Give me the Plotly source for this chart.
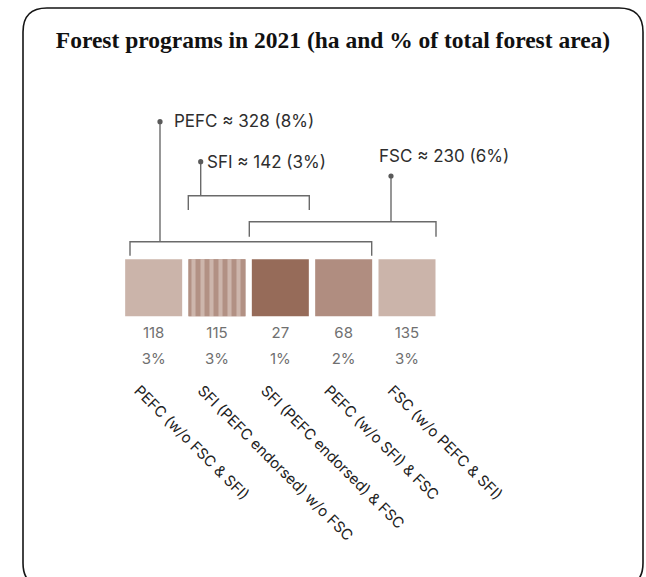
import plotly.graph_objects as go

# ---------------- data ----------------
categories = [
    "PEFC (w/o FSC & SFI)",
    "SFI (PEFC endorsed) w/o FSC",
    "SFI (PEFC endorsed) & FSC",
    "PEFC (w/o SFI) & FSC",
    "FSC (w/o PEFC & SFI)",
]
area_ha = [118, 115, 27, 68, 135]
share_pct = [3, 3, 1, 2, 3]
striped = [False, True, False, False, False]

group_names = ["PEFC", "SFI", "FSC"]
group_members = [[0, 1, 2, 3], [1, 2], [2, 3, 4]]
group_pct = [8, 3, 6]

# ---------------- styles ----------------
tile_colors = ["#cbb4aa", "#b29184", "#966b59", "#b08d80", "#cbb4aa"]
stripe_color = "#cdb6ac"
stripe_bg = "#b29184"

W, H = 646, 577
ML, MR, MT, MB = 27, 49, 60, 205
XR = (-2, 7)
PW = W - ML - MR
PH = H - MT - MB
PX_PER_X = PW / (XR[1] - XR[0])
TILE_PX = 57
TILE_BOTTOM = 316.3


def xd(px):
    return (px - ML) / PX_PER_X + XR[0]


def yd(py):
    return (H - MB) - py


def xp(px):
    return (px - ML) / PW


def yp(py):
    return ((H - MB) - py) / PH


# bracket geometry in pixels: bar y, tick bottom y, x0, x1, stem x, dot y, label x, label y
bracket_px = [
    (241.7, 255.7, 130.0, 371.7, 160.0, 121.7, 171.5, 121.0),
    (195.7, 210.0, 188.3, 309.3, 200.7, 161.7, 205.0, 162.0),
    (221.7, 236.7, 249.3, 436.0, 391.0, 176.0, 376.5, 155.5),
]

fig = go.Figure()

# plain tiles
fig.add_trace(go.Bar(
    x=categories,
    y=[TILE_PX] * len(categories),
    base=[yd(TILE_BOTTOM)] * len(categories),
    width=0.9,
    marker=dict(color=tile_colors, line=dict(width=0)),
    hoverinfo="skip",
    showlegend=False,
))

# striped tile(s)
s_cats = [c for c, s in zip(categories, striped) if s]
fig.add_trace(go.Bar(
    x=s_cats,
    y=[TILE_PX] * len(s_cats),
    base=[yd(TILE_BOTTOM)] * len(s_cats),
    width=0.9,
    marker=dict(
        color=stripe_bg,
        line=dict(width=0),
        pattern=dict(shape="|", fgcolor=stripe_color, bgcolor=stripe_bg,
                     fgopacity=1, size=9, solidity=0.45, fillmode="replace"),
    ),
    hoverinfo="skip",
    showlegend=False,
))

# values and percentages
fig.add_trace(go.Scatter(
    x=categories, y=[yd(334)] * len(categories), mode="text",
    text=[str(v) for v in area_ha],
    textfont=dict(family="Inter", size=15, color="#707070"),
    showlegend=False, hoverinfo="skip",
))
fig.add_trace(go.Scatter(
    x=categories, y=[yd(360)] * len(categories), mode="text",
    text=[f"{p}%" for p in share_pct],
    textfont=dict(family="Inter", size=15, color="#707070"),
    showlegend=False, hoverinfo="skip",
))

line_style = dict(color="#6a6a6a", width=1.4)
for name, members, pct, geo in zip(group_names, group_members, group_pct, bracket_px):
    by, tb, x0, x1, sx, dy, lx, ly = geo
    total = sum(area_ha[i] for i in members)
    fig.add_shape(type="path",
                  path=f"M {xd(x0)},{yd(tb)} L {xd(x0)},{yd(by)} L {xd(x1)},{yd(by)} L {xd(x1)},{yd(tb)}",
                  xref="x", yref="y", line=line_style)
    fig.add_shape(type="line", x0=xd(sx), x1=xd(sx), y0=yd(by), y1=yd(dy),
                  xref="x", yref="y", line=line_style)
    fig.add_shape(type="circle", xref="x", yref="y",
                  xsizemode="pixel", ysizemode="pixel",
                  xanchor=xd(sx), yanchor=yd(dy),
                  x0=-2.6, x1=2.6, y0=-2.6, y1=2.6,
                  fillcolor="#5a5a5a", line=dict(width=0))
    fig.add_annotation(x=xd(lx), y=yd(ly), xref="x", yref="y",
                       text=f"{name} ≈ {total} ({pct}%)", showarrow=False,
                       xanchor="left", yanchor="middle",
                       font=dict(family="Inter", size=17, color="#2e2e2e"))

# rounded frame
fl, fr, ft, fb, r = 23, 643, 8, 587, 24
frame = (
    f"M {xp(fl)},{yp(ft + r)} Q {xp(fl)},{yp(ft)} {xp(fl + r)},{yp(ft)} "
    f"L {xp(fr - r)},{yp(ft)} Q {xp(fr)},{yp(ft)} {xp(fr)},{yp(ft + r)} "
    f"L {xp(fr)},{yp(fb - r)} Q {xp(fr)},{yp(fb)} {xp(fr - r)},{yp(fb)} "
    f"L {xp(fl + r)},{yp(fb)} Q {xp(fl)},{yp(fb)} {xp(fl)},{yp(fb - r)} Z"
)
fig.add_shape(type="path", path=frame, xref="paper", yref="paper",
              line=dict(color="#151515", width=1.6), layer="below")

fig.update_layout(
    width=W, height=H,
    barmode="overlay",
    margin=dict(l=ML, r=MR, t=MT, b=MB, autoexpand=False),
    paper_bgcolor="white", plot_bgcolor="white",
    title=dict(text="<b>Forest programs in 2021 (ha and % of total forest area)</b>",
               x=333 / W, xanchor="center", y=1 - 40 / H, yanchor="middle",
               font=dict(family="Liberation Serif", size=23.5, color="#111111")),
    xaxis=dict(type="category", categoryorder="array", categoryarray=categories,
               range=list(XR), showgrid=False, zeroline=False,
               showline=False, ticks="", tickangle=45,
               ticklabelshift=-15, ticklabelstandoff=6,
               tickfont=dict(family="Inter", size=15, color="#222222"),
               automargin=False),
    yaxis=dict(range=[0, PH], visible=False, showgrid=False, zeroline=False,
               automargin=False),
    showlegend=False,
)

fig.write_html("out.html",
               config={"displayModeBar": False, "staticPlot": True},
               post_script="document.body.style.margin='0';document.body.style.overflow='hidden';")
